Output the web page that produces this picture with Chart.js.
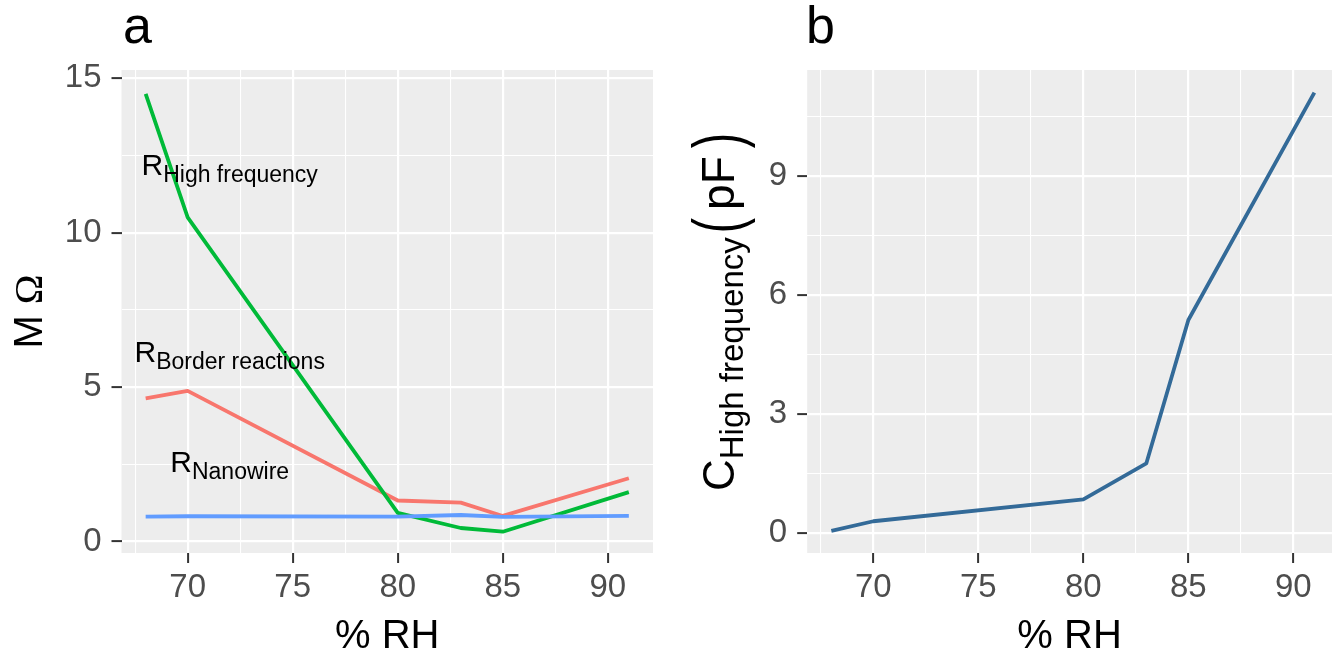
<!DOCTYPE html>
<html><head><meta charset="utf-8">
<script src="https://cdn.jsdelivr.net/npm/chart.js@4"></script>
<style>
html,body{margin:0;padding:0;background:#fff;}
#wrap{position:relative;width:1333px;height:651px;overflow:hidden;background:#fff;}
canvas{position:absolute;top:0;}
</style></head><body>
<div id="wrap">
<canvas id="ca" width="666" height="651" style="left:0"></canvas>
<canvas id="cb" width="667" height="651" style="left:666px"></canvas>
</div>
<script>
// ---- data ----
const rh = [68, 70, 80, 83, 85, 91];
const rHighFrequency = [14.5, 10.5, 0.93, 0.44, 0.32, 1.6];
const rBorderReactions = [4.64, 4.88, 1.33, 1.26, 0.83, 2.05];
const rNanowire = [0.81, 0.82, 0.81, 0.86, 0.80, 0.83];
const cHighFrequency = [0.06, 0.30, 0.85, 1.76, 5.37, 11.10];

const xMajor = [70, 75, 80, 85, 90];
const xMinor = [67.5, 72.5, 77.5, 82.5, 87.5];
const yMajorA = [0, 5, 10, 15];
const yMinorA = [2.5, 7.5, 12.5];
const yMajorB = [0, 3, 6, 9];
const yMinorB = [1.5, 4.5, 7.5, 10.5];

// label positions in data units (centre x, middle of main letter y)
const labelsA = [
  {main: 'R', sub: 'High frequency', x: 72.0, y: 12.2},
  {main: 'R', sub: 'Border reactions', x: 72.0, y: 6.15},
  {main: 'R', sub: 'Nanowire', x: 72.0, y: 2.6}
];

const FONT = '"Liberation Sans", Arial, Helvetica, sans-serif';
const SERIF = '"Liberation Serif", "DejaVu Serif", serif';

function pts(ys) { return rh.map((x, i) => ({x: x, y: ys[i]})); }

const panelBg = {
  id: 'panelBg',
  beforeDraw(chart) {
    const {ctx, chartArea: a} = chart;
    ctx.save();
    ctx.fillStyle = '#EDEDED';
    ctx.fillRect(a.left, a.top, a.right - a.left, a.bottom - a.top);
    ctx.restore();
  }
};

function xScale(min, max, h) {
  const all = xMinor.concat(xMajor).sort((a, b) => a - b);
  return {
    type: 'linear', min: min, max: max,
    afterBuildTicks(s) { s.ticks = all.filter(v => v >= min && v <= max).map(v => ({value: v})); },
    afterFit(s) { s.height = h; },
    grid: {
      color: '#FFFFFF',
      lineWidth: c => (c.tick && xMajor.includes(c.tick.value)) ? 2.2 : 1.1,
      drawTicks: true, tickLength: 10, tickWidth: 2,
      tickColor: c => (c.tick && xMajor.includes(c.tick.value)) ? '#333333' : 'rgba(0,0,0,0)'
    },
    border: {display: false},
    ticks: {autoSkip: false, maxRotation: 0, minRotation: 0, padding: 5, color: '#4D4D4D',
      font: {family: FONT, size: 33},
      callback: v => xMajor.includes(v) ? String(v) : ''}
  };
}
function yScale(min, max, major, minor, w) {
  const all = minor.concat(major).sort((a, b) => a - b);
  return {
    type: 'linear', min: min, max: max,
    afterBuildTicks(s) { s.ticks = all.filter(v => v >= min && v <= max).map(v => ({value: v})); },
    afterFit(s) { s.width = w; },
    grid: {
      color: '#FFFFFF',
      lineWidth: c => (c.tick && major.includes(c.tick.value)) ? 2.2 : 1.1,
      drawTicks: true, tickLength: 10, tickWidth: 2,
      tickColor: c => (c.tick && major.includes(c.tick.value)) ? '#333333' : 'rgba(0,0,0,0)'
    },
    border: {display: false},
    ticks: {autoSkip: false, padding: 10, color: '#4D4D4D',
      font: {family: FONT, size: 33},
      callback: v => major.includes(v) ? String(v) : ''}
  };
}

function partsWidth(ctx, parts) {
  let w = 0;
  parts.forEach(p => { ctx.font = p.size + 'px ' + (p.fam || FONT); w += (p.pre || 0) + ctx.measureText(p.t).width + (p.gap || 0); });
  return w;
}
function drawParts(ctx, parts, x0, y0) {
  let x = x0;
  parts.forEach(p => {
    ctx.font = p.size + 'px ' + (p.fam || FONT);
    x += (p.pre || 0);
    ctx.save();
    ctx.translate(x, y0 + (p.dy || 0));
    ctx.scale(1, p.sy || 1);
    ctx.fillText(p.t, 0, 0);
    ctx.restore();
    x += ctx.measureText(p.t).width + (p.gap || 0);
  });
}

const textA = {
  id: 'textA',
  afterDraw(chart) {
    const {ctx, chartArea: a, scales} = chart;
    ctx.save();
    ctx.fillStyle = '#000';
    ctx.textBaseline = 'alphabetic';
    ctx.textAlign = 'left';
    ctx.font = '52px ' + FONT;
    ctx.fillText('a', 123, 42.5);
    ctx.font = '40px ' + FONT;
    ctx.textAlign = 'center';
    ctx.fillText('% RH', (a.left + a.right) / 2, 648);
    ctx.textAlign = 'left';
    const yt = [{t: 'M ', size: 40}, {t: 'Ω', size: 40, fam: SERIF}];
    ctx.save();
    ctx.translate(42, (a.top + a.bottom) / 2);
    ctx.rotate(-Math.PI / 2);
    drawParts(ctx, yt, -partsWidth(ctx, yt) / 2, 0);
    ctx.restore();
    labelsA.forEach(l => {
      const parts = [{t: l.main, size: 30}, {t: l.sub, size: 23, dy: 7}];
      const w = partsWidth(ctx, parts);
      const cx = scales.x.getPixelForValue(l.x);
      const cy = scales.y.getPixelForValue(l.y);
      drawParts(ctx, parts, cx - w / 2, cy + 10.5);
    });
    ctx.restore();
  }
};

const textB = {
  id: 'textB',
  afterDraw(chart) {
    const {ctx, chartArea: a} = chart;
    ctx.save();
    ctx.fillStyle = '#000';
    ctx.textBaseline = 'alphabetic';
    ctx.textAlign = 'left';
    ctx.font = '52px ' + FONT;
    ctx.fillText('b', 140, 42.5);
    ctx.font = '40px ' + FONT;
    ctx.textAlign = 'center';
    ctx.fillText('% RH', (a.left + a.right) / 2, 648);
    ctx.textAlign = 'left';
    const yt = [
      {t: 'C', size: 44},
      {t: 'High frequency', size: 33, dy: 9},
      {t: '(', size: 46, dy: 7, sy: 1.5, pre: 4, gap: 8},
      {t: 'pF', size: 46, gap: 8},
      {t: ')', size: 46, dy: 7, sy: 1.5}
    ];
    ctx.save();
    ctx.translate(68, 491);
    ctx.rotate(-Math.PI / 2);
    drawParts(ctx, yt, 0, 0);
    ctx.restore();
    ctx.restore();
  }
};

const common = {
  responsive: false, animation: false, devicePixelRatio: 1,
  plugins: {legend: {display: false}, tooltip: {enabled: false}},
  elements: {point: {radius: 0}, line: {tension: 0, borderCapStyle: 'butt', borderJoinStyle: 'round'}}
};

new Chart(document.getElementById('ca'), {
  type: 'line',
  data: {datasets: [
    {label: 'R Nanowire', data: pts(rNanowire), borderColor: '#619CFF', borderWidth: 3.8, fill: false, order: 1},
    {label: 'R High frequency', data: pts(rHighFrequency), borderColor: '#00BA38', borderWidth: 3.8, fill: false, order: 2},
    {label: 'R Border reactions', data: pts(rBorderReactions), borderColor: '#F8766D', borderWidth: 3.8, fill: false, order: 3}
  ]},
  options: Object.assign({}, common, {
    layout: {padding: {left: 0, top: 70, right: 13, bottom: 0}},
    scales: {x: xScale(66.85, 92.15, 98), y: yScale(-0.37, 15.27, yMajorA, yMinorA, 121.5)}
  }),
  plugins: [panelBg, textA]
});

new Chart(document.getElementById('cb'), {
  type: 'line',
  data: {datasets: [
    {label: 'C High frequency', data: pts(cHighFrequency), borderColor: '#336A98', borderWidth: 3.8, fill: false}
  ]},
  options: Object.assign({}, common, {
    layout: {padding: {left: 0, top: 70, right: 1, bottom: 0}},
    scales: {x: xScale(66.85, 91.84, 98), y: yScale(-0.5, 11.67, yMajorB, yMinorB, 141.2)}
  }),
  plugins: [panelBg, textB]
});
</script>
</body></html>
